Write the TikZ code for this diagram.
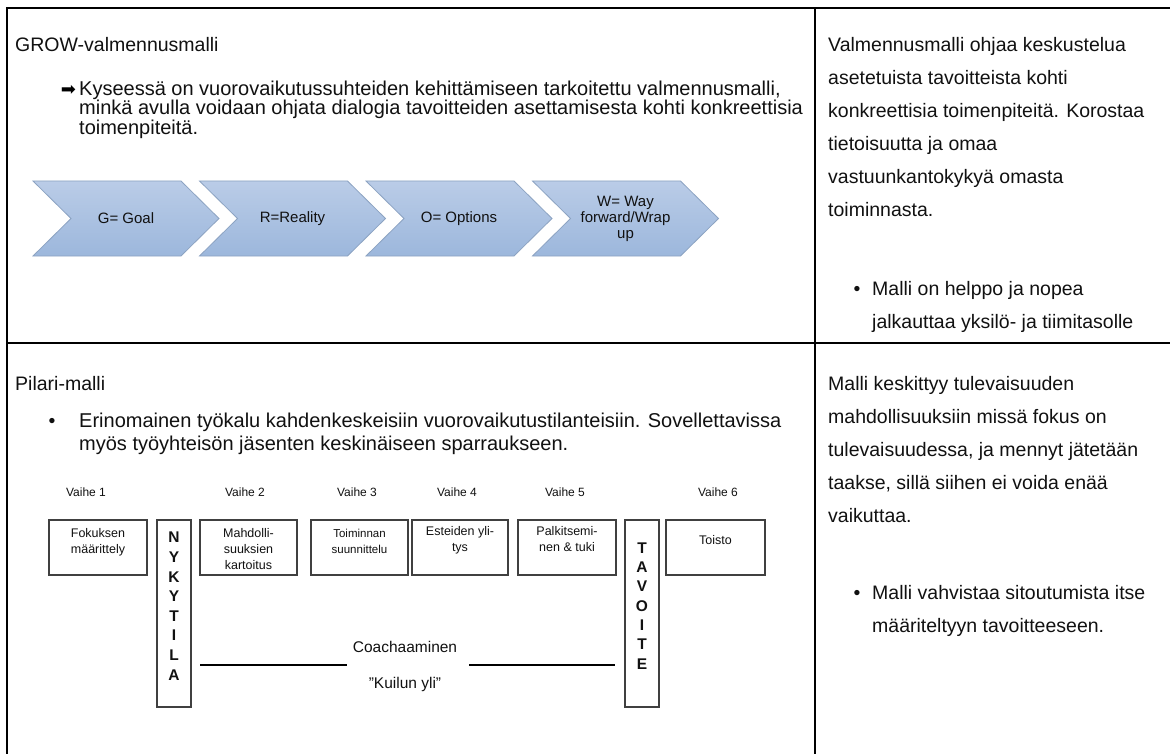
\documentclass[tikz,border=0pt]{standalone}
\usepackage{fontspec}
\setmainfont{Liberation Sans}
\newfontfamily\symfont{DejaVu Sans}
\newcommand\fsz[1]{\fontsize{#1}{#1}\selectfont}
\newcommand\fszl[2]{\fontsize{#1}{#2}\selectfont}
\definecolor{chevtop}{HTML}{BACCE7}
\definecolor{chevbot}{HTML}{9CB7DC}
\definecolor{chevline}{HTML}{8CA3C2}
\definecolor{ink}{HTML}{111111}
\tikzset{
  tbl/.style={line width=1.3pt, draw=black},
  body/.style={font=\fsz{19.5}, anchor=base west, inner sep=0pt, text=ink},
  bodyl/.style={body, font=\fsz{20}},
  chev/.style={top color=chevtop, bottom color=chevbot, draw=chevline, line width=0.8pt},
  chevtxt/.style={font=\fszl{15}{16}, align=center, inner sep=0pt, text=ink},
  stagebox/.style={draw=black!75, line width=1.1pt, minimum width=#1, minimum height=55pt, inner sep=0pt},
  stagetxt/.style={font=\fszl{12.5}{16}, align=center, inner sep=0pt, anchor=north, text=ink},
  vaihe/.style={font=\fsz{12}, inner sep=0pt, text=ink},
  pillar/.style={draw=black!75, line width=1.1pt, minimum width=34pt, minimum height=187pt, inner sep=0pt},
  plet/.style={font=\bfseries\fsz{15.5}, inner sep=0pt, text=ink},
  gapline/.style={line width=2pt, draw=black},
  midtxt/.style={font=\fsz{15.5}, inner sep=0pt, text=ink}
}
\begin{document}
\begin{tikzpicture}[x=1pt,y=-1pt]
\useasboundingbox (0,0) rectangle (1170,754);
\fill[white] (0,0) rectangle (1170,754);

% table grid
\draw[tbl] (7,754) -- (7,8) -- (1170,8);
\draw[tbl] (815,8) -- (815,754);
\draw[tbl] (7,343) -- (1170,343);

% ---------- GROW cell ----------
\node[body] (growhead) at (15,52) {GROW-valmennusmalli};
\node[font=\symfont\fsz{18}, inner sep=0pt, anchor=base] (growarrow) at (68.5,95.5) {➡};
\node[bodyl] (growl1) at (79,95.5) {Kyseessä on vuorovaikutussuhteiden kehittämiseen tarkoitettu valmennusmalli,};
\node[bodyl] (growl2) at (79,115) {minkä avulla voidaan ohjata dialogia tavoitteiden asettamisesta kohti konkreettisia};
\node[bodyl] (growl3) at (79,134.5) {toimenpiteitä.};

% chevron process
\foreach \i in {0,...,3}{
  \pgfmathsetmacro\xo{33+166.5*\i}
  \path[chev] (\xo,181) -- ++(148,0) -- ++(38,37.5) -- ++(-38,37.5) -- ++(-148,0) -- ++(38,-37.5) -- cycle;
}
\node[chevtxt] (cg) at (126,218.5) {G= Goal};
\node[chevtxt] (cr) at (292.5,218.5) {R=Reality};
\node[chevtxt] (co) at (459,218.5) {O= Options};
\node[chevtxt] (cw) at (625.5,218.5) {W= Way\\forward/Wrap\\up};

% ---------- GROW notes ----------
\node[body] (gr1) at (828,52) {Valmennusmalli ohjaa keskustelua};
\node[body] (gr2) at (828,85) {asetetuista tavoitteista kohti};
\node[body] (gr3) at (828,118) {konkreettisia toimenpiteitä. Korostaa};
\node[body] (gr4) at (828,151) {tietoisuutta ja omaa};
\node[body] (gr5) at (828,184) {vastuunkantokykyä omasta};
\node[body] (gr6) at (828,217) {toiminnasta.};
\node[body, anchor=base] (grb) at (857,295) {•};
\node[body] (gr7) at (872,295) {Malli on helppo ja nopea};
\node[body] (gr8) at (872,328) {jalkauttaa yksilö- ja tiimitasolle};

% ---------- Pilari cell ----------
\node[body] (pilhead) at (15,390) {Pilari-malli};
\node[body, anchor=base] (pilb) at (52,427) {•};
\node[bodyl] (pill1) at (79,427) {Erinomainen työkalu kahdenkeskeisiin vuorovaikutustilanteisiin. Sovellettavissa};
\node[bodyl] (pill2) at (79,450) {myös työyhteisön jäsenten keskinäiseen sparraukseen.};

% phase labels
\node[vaihe] (v1) at (86,492) {Vaihe 1};
\node[vaihe] (v2) at (245,492) {Vaihe 2};
\node[vaihe] (v3) at (357,492) {Vaihe 3};
\node[vaihe] (v4) at (457,492) {Vaihe 4};
\node[vaihe] (v5) at (565,492) {Vaihe 5};
\node[vaihe] (v6) at (718,492) {Vaihe 6};

% phase boxes
\node[stagebox=98pt] (s1) at (98,547.5) {};
\node[stagebox=97pt] (s2) at (248.5,547.5) {};
\node[stagebox=97pt] (s3) at (359.5,547.5) {};
\node[stagebox=96pt] (s4) at (460,547.5) {};
\node[stagebox=98pt] (s5) at (567,547.5) {};
\node[stagebox=99pt] (s6) at (715.5,547.5) {};

\node[stagetxt] (s1t) at (98,528.5) {Fokuksen\\määrittely};
\begin{scope}
  \clip (200,520) rectangle (297,573.5);
  \node[stagetxt] (s2t) at (248.5,528.5) {Mahdolli-\\suuksien\\kartoitus};
\end{scope}
\node[stagetxt, font=\fszl{11.5}{16}] (s3t) at (359.5,528.5) {Toiminnan\\suunnittelu};
\node[stagetxt] (s4t) at (460,526.5) {Esteiden yli-\\tys};
\node[stagetxt] (s5t) at (567,526.5) {Palkitsemi-\\nen \& tuki};
\node[stagetxt] (s6t) at (715.5,535.5) {Toisto};

% pillars
\node[pillar] (nyk) at (174,613.5) {};
\foreach \c [count=\k from 0] in {N,Y,K,Y,T,I,L,A}
  \node[plet] (nyk-\k) at (174,537.5+19.6*\k) {\c};
\node[pillar] (tav) at (642,613.5) {};
\foreach \c [count=\k from 0] in {T,A,V,O,I,T,E}
  \node[plet] (tav-\k) at (642,548+19.3*\k) {\c};

% gap between the pillars
\node[midtxt] (coach) at (405,647) {Coachaaminen};
\node[midtxt] (kuilu) at (405,684) {”Kuilun yli”};
\coordinate (gl1) at (200,665);
\coordinate (gl2) at (347,665);
\coordinate (gr1a) at (469,665);
\coordinate (gr2a) at (615,665);
\draw[gapline] (gl1) -- (gl2);
\draw[gapline] (gr1a) -- (gr2a);

% ---------- Pilari notes ----------
\node[body] (pr1) at (828,390) {Malli keskittyy tulevaisuuden};
\node[body] (pr2) at (828,423) {mahdollisuuksiin missä fokus on};
\node[body] (pr3) at (828,456) {tulevaisuudessa, ja mennyt jätetään};
\node[body] (pr4) at (828,489) {taakse, sillä siihen ei voida enää};
\node[body] (pr5) at (828,522) {vaikuttaa.};
\node[body, anchor=base] (prb) at (857,599) {•};
\node[body] (pr6) at (872,599) {Malli vahvistaa sitoutumista itse};
\node[body] (pr7) at (872,632) {määriteltyyn tavoitteeseen.};
\end{tikzpicture}
\end{document}
